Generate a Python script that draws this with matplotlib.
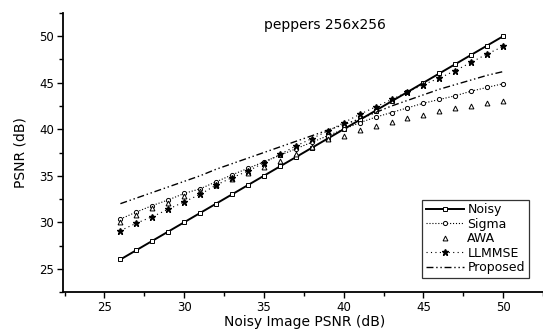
import matplotlib
matplotlib.use("Agg")
import matplotlib.pyplot as plt
from matplotlib.ticker import MultipleLocator

plt.rcParams["font.family"] = ["DejaVu Sans"]

noisy_psnr = [26, 27, 28, 29, 30, 31, 32, 33, 34, 35, 36, 37, 38,
              39, 40, 41, 42, 43, 44, 45, 46, 47, 48, 49, 50]
noisy = noisy_psnr
sigma = [30.35, 31.1, 31.8, 32.4, 33.1, 33.6, 34.35, 35.1, 35.8, 36.5, 37.2, 37.9, 38.6,
         39.3, 40.0, 40.7, 41.3, 41.8, 42.3, 42.8, 43.2, 43.6, 44.1, 44.5, 44.9]
awa = [30.0, 30.8, 31.5, 32.1, 32.8, 33.4, 34.0, 34.7, 35.3, 35.9, 36.6, 37.3, 38.1,
       38.9, 39.3, 39.9, 40.4, 40.8, 41.2, 41.5, 41.95, 42.25, 42.5, 42.8, 43.0]
llmmse = [29.1, 29.9, 30.6, 31.4, 32.2, 33.0, 34.0, 34.8, 35.5, 36.4, 37.3, 38.2, 39.0,
          39.8, 40.7, 41.6, 42.4, 43.2, 44.0, 44.8, 45.5, 46.3, 47.2, 48.1, 48.9]
proposed = [32.0, 32.6, 33.2, 33.8, 34.4, 35.0, 35.7, 36.3, 36.9, 37.5, 38.1, 38.7, 39.3,
            39.9, 40.5, 41.1, 41.8, 42.5, 43.1, 43.7, 44.3, 44.8, 45.3, 45.8, 46.2]

fig = plt.figure(figsize=(5.43, 3.33), dpi=100)
ax = fig.add_axes([0.116, 0.123, 0.884, 0.838])

ax.plot(noisy_psnr, noisy, "k-", marker="s", ms=3, mfc="white", mew=0.7, lw=1.4, label="Noisy")
ax.plot(noisy_psnr, sigma, "k:", marker="o", ms=3, mfc="white", mew=0.7, lw=0.8, label="Sigma")
ax.plot(noisy_psnr, awa, "k", ls="none", marker="^", ms=3.5, mfc="white", mew=0.7, label="AWA")
ax.plot(noisy_psnr, llmmse, "k", ls=(0, (1, 3)), marker="*", ms=4.5, lw=0.8, label="LLMMSE")
ax.plot(noisy_psnr, proposed, "k", ls=(0, (5, 2, 1, 2, 1, 2)), lw=1.0, label="Proposed")

ax.set_xlim(22.4, 52.5)
ax.set_ylim(22.5, 52.5)
ax.xaxis.set_major_locator(MultipleLocator(5))
ax.xaxis.set_minor_locator(MultipleLocator(2.5))
ax.yaxis.set_major_locator(MultipleLocator(5))
ax.yaxis.set_minor_locator(MultipleLocator(2.5))
ax.tick_params(which="major", direction="out", length=4.5, width=1, labelsize=8.5, pad=2)
ax.tick_params(which="minor", direction="out", length=3, width=1)

ax.spines["top"].set_visible(False)
ax.spines["right"].set_visible(False)
ax.spines["left"].set_linewidth(1.3)
ax.spines["bottom"].set_linewidth(1.3)

ax.text(0.546, 0.957, "peppers 256x256", transform=ax.transAxes, ha="center", va="center", fontsize=10)
fig.text(305 / 543, 1 - 322 / 333, "Noisy Image PSNR (dB)", ha="center", va="center", fontsize=10)
ax.set_ylabel("PSNR (dB)", fontsize=10, labelpad=8)

leg = ax.legend(loc="lower right", bbox_to_anchor=(0.97, 0.05), fontsize=9, frameon=True,
                fancybox=False, edgecolor="black", handlelength=3.0, handletextpad=0.3,
                borderpad=0.3, labelspacing=0.12, borderaxespad=0)
leg.get_frame().set_linewidth(0.9)

fig.savefig("out.png", dpi=100)
